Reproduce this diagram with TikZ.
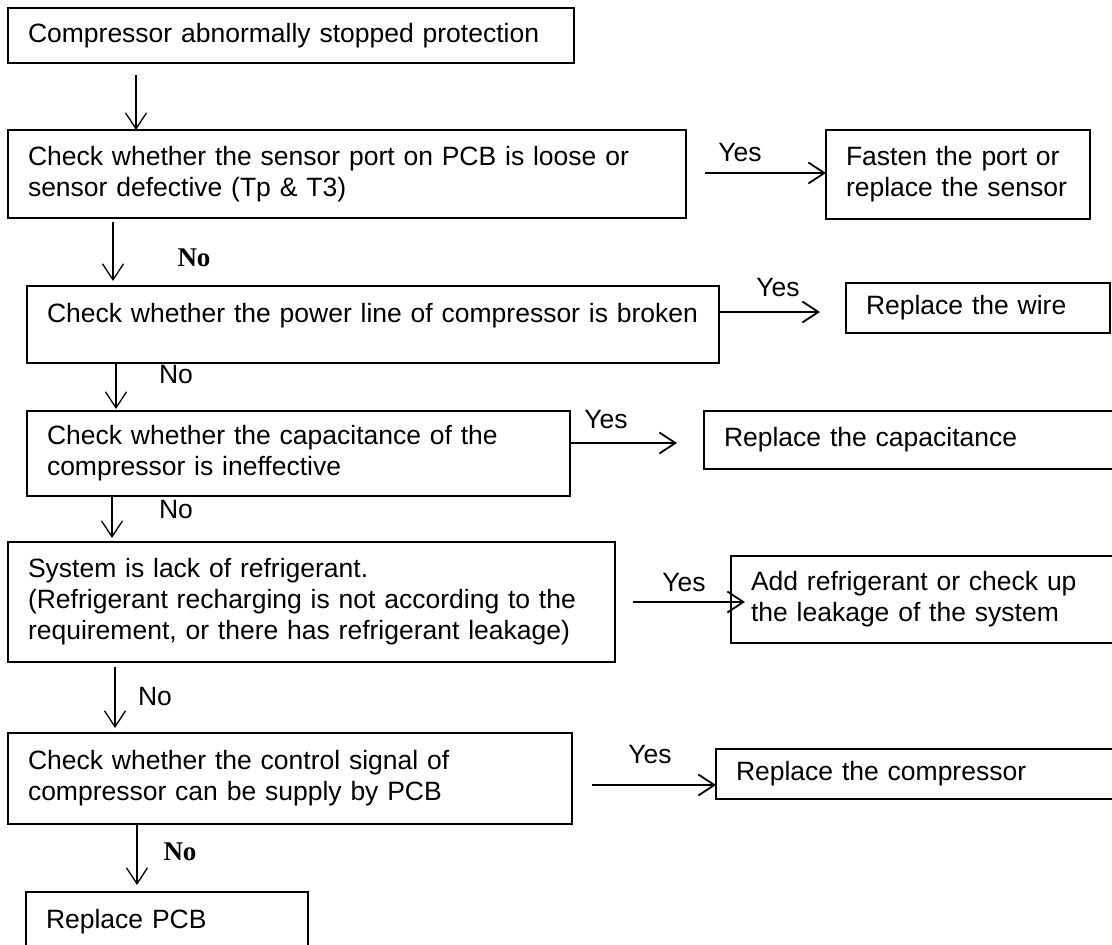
\documentclass[tikz,border=0pt]{standalone}
\usepackage{fontspec}
\setmainfont{Liberation Sans}
\newfontfamily\tnr{Liberation Serif}
\usetikzlibrary{arrows.meta}
\begin{document}
\begin{tikzpicture}[x=1pt,y=-1pt,
  every node/.style={font=\fontsize{26.5}{31}\selectfont},
  box/.style={draw, line width=1.3pt, anchor=north west, inner xsep=20pt, inner ysep=0pt, outer sep=0pt, align=left},
  varr/.style={-{Straight Barb[length=16pt,width=21pt]}, line width=1.3pt},
  harr/.style={-{Straight Barb[length=16pt,width=21pt]}, line width=1.8pt},
  lbl/.style={inner sep=0pt},
  nob/.style={inner sep=0pt, font=\tnr\bfseries\fontsize{27}{31}\selectfont}]
\useasboundingbox (0,0) rectangle (1112,945);
\fill[white] (0,0) rectangle (1112,945);
\clip (0,0) rectangle (1112,945);

% left column
\node[box, text width=526pt, minimum height=55pt] (B1) at (8,8) {Compressor abnormally stopped protection};
\node[box, text width=638pt, minimum height=88pt] (B2) at (8,130) {Check whether the sensor port on PCB is loose or\\sensor defective (Tp \& T3)};
\node[box, text width=652pt, text height=36pt, text depth=41pt] (B3) at (27,286) {Check whether the power line of compressor is broken};
\node[box, text width=503pt, minimum height=85pt] (B4) at (27,411) {Check whether the capacitance of the\\compressor is ineffective};
\node[box, text width=567pt, minimum height=120pt] (B5) at (8,542) {System is lack of refrigerant.\\(Refrigerant recharging is not according to the\\requirement, or there has refrigerant leakage)};
\node[box, text width=524pt, minimum height=91pt] (B6) at (8,733) {Check whether the control signal of\\compressor can be supply by PCB};
\node[box, text width=242pt, minimum height=60pt] (B7) at (26,892) {Replace PCB};

% right column
\node[box, text width=224pt, minimum height=89pt] (F1) at (826,130) {Fasten the port or\\replace the sensor};
\node[box, text width=224pt, minimum height=50pt] (F2) at (846,283) {Replace the wire};
\node[box, text width=380pt, minimum height=58pt] (F3) at (704,411) {Replace the capacitance};
\node[box, text width=360pt, minimum height=87pt] (F4) at (731,556) {Add refrigerant or check up\\the leakage of the system};
\node[box, text width=380pt, minimum height=50pt] (F5) at (716,749) {Replace the compressor};

% vertical arrows
\coordinate (a1) at (136,75);
\draw[varr] (a1) -- (a1 |- B2.north);
\coordinate (a2) at (113,222);
\draw[varr] (a2) -- ([yshift=5pt]a2 |- B3.north);
\draw[varr] ([xshift=89pt]B3.south west) -- ([xshift=89pt,yshift=2pt]B4.north west);
\draw[varr] ([xshift=85pt]B4.south west) -- ([xshift=104pt,yshift=4pt]B5.north west);
\coordinate (a5) at (115,667);
\draw[varr] (a5) -- ([yshift=5pt]a5 |- B6.north);
\draw[varr] ([xshift=129pt]B6.south west) -- ([xshift=111pt,yshift=7pt]B7.north west);

% No labels
\node[nob] (N1) at (194,258) {No};
\node[lbl] (N2) at (176,375) {No};
\node[lbl] (N3) at (176,510) {No};
\node[lbl] (N4) at (155,697) {No};
\node[nob] (N5) at (180,852) {No};

% horizontal arrows
\coordinate (h1) at (705,173);
\draw[harr] (h1) -- (h1 -| F1.west);
\coordinate (h2) at (820,312);
\draw[harr] (h2 -| B3.east) -- (h2);
\coordinate (h3) at (677,443);
\draw[harr] (h3 -| B4.east) -- (h3);
\coordinate (h4) at (633,602);
\draw[harr] (h4) -- ([xshift=14pt]h4 -| F4.west);
\coordinate (h5) at (592,785);
\draw[harr] (h5) -- (h5 -| F5.west);

% Yes labels
\node[lbl] (Y1) at (740,153) {Yes};
\node[lbl] (Y2) at (778,288) {Yes};
\node[lbl] (Y3) at (606,420) {Yes};
\node[lbl] (Y4) at (684,583) {Yes};
\node[lbl] (Y5) at (650,755) {Yes};
\end{tikzpicture}
\end{document}
